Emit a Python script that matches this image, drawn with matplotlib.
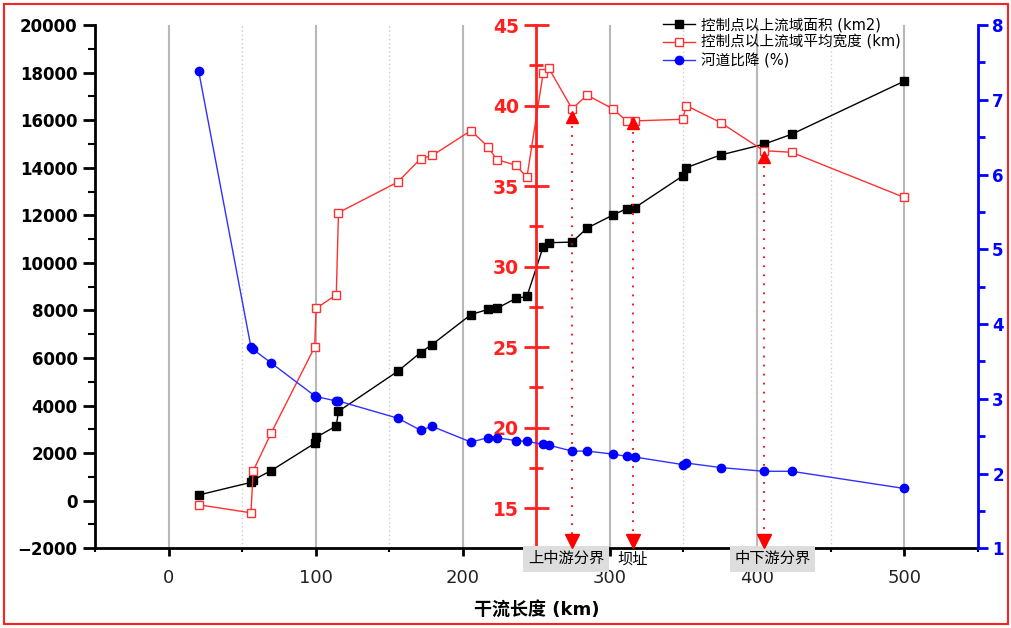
import matplotlib
matplotlib.use("Agg")
import matplotlib.pyplot as plt
import matplotlib.transforms as mtransforms
from matplotlib.patches import Rectangle
from matplotlib.ticker import MultipleLocator

plt.rcParams['font.family'] = ['DejaVu Sans', 'Noto Sans CJK SC']

# ---- data ----
km = [20.5, 56, 57.5, 69.7, 99.3, 100.3, 114, 115.5, 155.8, 171.3, 179.2, 205.6, 217, 223,
      236, 243.6, 254.6, 258.3, 274.3, 284.5, 302, 311.4, 317, 349.4, 352, 375.2, 404.5,
      423.5, 500]
area = [240, 770, 870, 1263, 2412, 2665, 3144, 3760, 5443, 6230, 6568, 7830, 8041, 8083,
        8504, 8588, 10664, 10849, 10875, 11464, 12011, 12281, 12323, 13653, 14007, 14537,
        14988, 15409, 17640]
width = [15.2, 14.7, 17.3, 19.65, 25.0, 27.4, 28.25, 33.35, 35.25, 36.7, 36.9, 38.45, 37.45,
         36.65, 36.3, 35.55, 42.0, 42.35, 39.8, 40.65, 39.8, 39.05, 39.05, 39.15, 40.0, 38.95,
         37.2, 37.1, 34.3]
slope = [7.38, 3.69, 3.66, 3.48, 3.04, 3.03, 2.97, 2.97, 2.74, 2.58, 2.63, 2.42, 2.48, 2.48,
         2.44, 2.43, 2.39, 2.38, 2.30, 2.30, 2.26, 2.23, 2.22, 2.12, 2.14, 2.08, 2.03, 2.03,
         1.80]

boundary_km = [274.3, 315.5, 404.5]
boundary_top = [39.3, 38.95, 36.8]
boundary_labels = ['上中游分界', '坝址', '中下游分界']
boundary_label_dx = [-4, 0, 6]
boundary_boxed = [True, False, True]

series_labels = ['控制点以上流域面积 (km2)', '控制点以上流域平均宽度 (km)', '河道比降 (%)']

# ---- figure ----
fig = plt.figure(figsize=(10.11, 6.28), dpi=100)
fig.patches.append(Rectangle((0.004, 0.006), 0.993, 0.988, transform=fig.transFigure,
                             fill=False, edgecolor='#ff2020', linewidth=1.5))

ax = fig.add_axes([0.094, 0.127, 0.873, 0.833])
ax.set_xlim(-50, 550)
ax.set_ylim(-2000, 20000)
ax.xaxis.set_major_locator(MultipleLocator(100))
ax.xaxis.set_minor_locator(MultipleLocator(50))
ax.yaxis.set_major_locator(MultipleLocator(2000))
ax.yaxis.set_minor_locator(MultipleLocator(1000))
ax.grid(axis='x', which='major', color='#b8b8b8', linewidth=1.5)
ax.grid(axis='x', which='minor', color='#cccccc', linestyle=(0, (1, 2)), linewidth=1)
ax.set_axisbelow(True)
for s in ['top', 'right']:
    ax.spines[s].set_visible(False)
ax.spines['left'].set_linewidth(2)
ax.spines['bottom'].set_linewidth(2)
ax.tick_params(axis='x', which='major', direction='out', length=6, width=2)
ax.tick_params(axis='x', which='minor', direction='out', length=3, width=1.5)
ax.tick_params(axis='y', which='major', direction='out', length=9, width=2)
ax.tick_params(axis='y', which='minor', direction='out', length=5, width=1.5)
ax.tick_params(axis='x', labelsize=13, pad=9, labelcolor='#222222')
ax.tick_params(axis='y', labelsize=12)
ax.set_xlabel('干流长度 (km)', fontsize=13, fontweight='bold', labelpad=10)

l1, = ax.plot(km, area, color='black', linewidth=1, marker='s', markersize=6,
              markerfacecolor='black', markeredgecolor='black', label=series_labels[0])

# red axis in the middle
ax2 = ax.twinx()
ax2.set_ylim(12.5, 45)
for s in ['top', 'right', 'bottom']:
    ax2.spines[s].set_visible(False)
ax2.spines['left'].set_visible(True)
ax2.spines['left'].set_position(('axes', 0.5))
ax2.spines['left'].set_color('#ff2020')
ax2.spines['left'].set_linewidth(2)
ax2.yaxis.tick_left()
ax2.yaxis.set_major_locator(MultipleLocator(5))
ax2.yaxis.set_minor_locator(MultipleLocator(2.5))
ax2.tick_params(axis='y', which='major', direction='inout', length=18, width=2,
                colors='#ff2020', labelsize=13.5)
ax2.tick_params(axis='y', which='minor', direction='inout', length=10, width=2,
                colors='#ff2020')
l2, = ax2.plot(km, width, color='#ff3030', linewidth=1, marker='s', markersize=6,
               markerfacecolor='white', markeredgecolor='#ff3030', label=series_labels[1])

# boundary markers
trans = mtransforms.blended_transform_factory(ax2.transData, ax2.transAxes)
for bx, bt, bl, dx, boxed in zip(boundary_km, boundary_top, boundary_labels,
                                 boundary_label_dx, boundary_boxed):
    ax2.plot([bx], [bt], marker='^', color='red', markersize=9, linestyle='none', zorder=5)
    ax2.plot([bx, bx], [bt, 12.9], color='red', linestyle=(0, (1, 4)), linewidth=1.3)
    ax2.plot([bx], [0.013], marker='v', color='red', markersize=10, transform=trans,
             clip_on=False, zorder=5)
    kw = dict(transform=trans, ha='center', va='center', fontsize=11, clip_on=False,
              family=['Noto Sans CJK SC', 'DejaVu Sans'])
    if boxed:
        kw['bbox'] = dict(boxstyle='square,pad=0.3', facecolor='#dddddd', edgecolor='none')
    ax2.text(bx + dx, -0.02, bl, **kw)

# blue axis at right
ax3 = ax.twinx()
ax3.set_ylim(1, 8)
for s in ['top', 'left', 'bottom']:
    ax3.spines[s].set_visible(False)
ax3.spines['right'].set_color('blue')
ax3.spines['right'].set_linewidth(2)
ax3.yaxis.set_major_locator(MultipleLocator(1))
ax3.yaxis.set_minor_locator(MultipleLocator(0.5))
ax3.tick_params(axis='y', which='major', direction='out', length=7, width=2,
                colors='blue', labelsize=12)
ax3.tick_params(axis='y', which='minor', direction='out', length=5, width=2, colors='blue')
l3, = ax3.plot(km, slope, color='#3030ff', linewidth=1, marker='o', markersize=6,
               markerfacecolor='blue', markeredgecolor='blue', label=series_labels[2])

leg = ax3.legend(handles=[l1, l2, l3], loc='upper left', bbox_to_anchor=(0.632, 1.035),
                 frameon=False, fontsize=10.5, handlelength=2.2, labelspacing=0.2,
                 borderpad=0.2, handletextpad=0.4)

fig.canvas.draw()
for a in (ax, ax2, ax3):
    for t in a.yaxis.get_major_ticks():
        t.label1.set_fontweight('bold')
        t.label2.set_fontweight('bold')

fig.savefig('out.png', dpi=100)
